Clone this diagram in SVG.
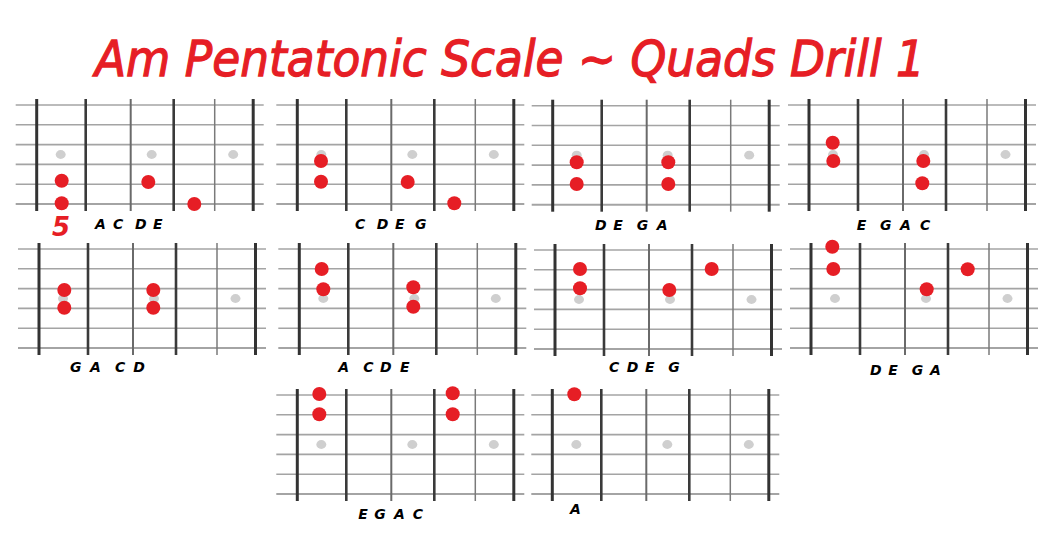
<svg xmlns="http://www.w3.org/2000/svg" xmlns:xlink="http://www.w3.org/1999/xlink" width="1062" height="541" viewBox="0 0 1062 541">
<style>
.str{stroke:#a4a4a4;stroke-width:1.6}
.f1{stroke:#333;stroke-width:3}
.f2{stroke:#3a3a3a;stroke-width:2.6}
.f3{stroke:#6a6a6a;stroke-width:2}
.f4{stroke:#7a7a7a;stroke-width:1.5}
.gd{fill:#cfcfcf}
.rd{fill:#e61e25}
.lbl{font-family:"DejaVu Sans",sans-serif;font-style:oblique;font-weight:bold;font-size:14px;fill:#000}
.title{font-family:"DejaVu Sans",sans-serif;font-style:oblique;font-size:50px;fill:#e61e25;stroke:#e61e25;stroke-width:1.3}
</style>
<defs>
<g id="board">
<line class="str" x1="-21" y1="0" x2="227" y2="0"/>
<line class="str" x1="-21" y1="19.8" x2="227" y2="19.8"/>
<line class="str" x1="-21" y1="39.6" x2="227" y2="39.6"/>
<line class="str" x1="-21" y1="59.4" x2="227" y2="59.4"/>
<line class="str" x1="-21" y1="79.2" x2="227" y2="79.2"/>
<line class="str" x1="-21" y1="99" x2="227" y2="99" style="stroke-width:2"/>
<line class="f1" x1="0" y1="-6" x2="0" y2="106"/>
<line class="f2" x1="49" y1="-6" x2="49" y2="106"/>
<line class="f3" x1="94" y1="-6" x2="94" y2="106"/>
<line class="f2" x1="137" y1="-6" x2="137" y2="106"/>
<line class="f4" x1="178" y1="-6" x2="178" y2="106"/>
<line class="f1" x1="216.5" y1="-6" x2="216.5" y2="106"/>
<ellipse class="gd" cx="24" cy="49.5" rx="5" ry="4.4"/>
<ellipse class="gd" cx="115" cy="49.5" rx="5" ry="4.4"/>
<ellipse class="gd" cx="196.5" cy="49.5" rx="5" ry="4.4"/>
</g>
</defs>
<rect width="1062" height="541" fill="#fff"/>
<text id="title" class="title" x="95" y="76" textLength="830" lengthAdjust="spacingAndGlyphs">Am Pentatonic Scale ~ Quads Drill 1</text>
<g id="d1">
<use xlink:href="#board" href="#board" x="36.7" y="105"/>
<circle class="rd" cx="61.7" cy="180.7" r="7"/>
<circle class="rd" cx="61.7" cy="203.3" r="7"/>
<circle class="rd" cx="148.3" cy="182" r="7"/>
<circle class="rd" cx="194.3" cy="204" r="7"/>
<text x="61" y="236" text-anchor="middle" style="font-family:'DejaVu Sans',sans-serif;font-style:oblique;font-weight:bold;font-size:26px;fill:#e61e25">5</text>
<text class="lbl" y="229"><tspan x="95">A</tspan> <tspan x="113">C</tspan> <tspan x="135">D</tspan> <tspan x="153">E</tspan></text>
</g>
<g id="d2">
<use xlink:href="#board" href="#board" x="297.3" y="105"/>
<circle class="rd" cx="321" cy="161" r="7"/>
<circle class="rd" cx="321" cy="181.7" r="7"/>
<circle class="rd" cx="407.7" cy="182" r="7"/>
<circle class="rd" cx="454.3" cy="203.3" r="7"/>
<text class="lbl" y="229"><tspan x="355">C</tspan> <tspan x="376.7">D</tspan> <tspan x="395">E</tspan> <tspan x="415">G</tspan></text>
</g>
<g id="d3">
<use xlink:href="#board" href="#board" x="552.7" y="105.7"/>
<circle class="rd" cx="576.7" cy="162.3" r="7"/>
<circle class="rd" cx="576.7" cy="184" r="7"/>
<circle class="rd" cx="668.3" cy="162.3" r="7"/>
<circle class="rd" cx="668.3" cy="184" r="7"/>
<text class="lbl" y="230"><tspan x="595">D</tspan> <tspan x="613.3">E</tspan> <tspan x="636.7">G</tspan> <tspan x="656.7">A</tspan></text>
</g>
<g id="d4">
<use xlink:href="#board" href="#board" x="809" y="105"/>
<circle class="rd" cx="832.7" cy="142.7" r="7"/>
<circle class="rd" cx="833.3" cy="161" r="7"/>
<circle class="rd" cx="923.3" cy="161" r="7"/>
<circle class="rd" cx="922.3" cy="183.3" r="7"/>
<text class="lbl" y="229.5"><tspan x="856.7">E</tspan> <tspan x="880">G</tspan> <tspan x="900">A</tspan> <tspan x="920">C</tspan></text>
</g>
<g id="d5">
<use xlink:href="#board" href="#board" x="39" y="249"/>
<circle class="rd" cx="64.3" cy="290" r="7"/>
<circle class="rd" cx="64.3" cy="307.7" r="7"/>
<circle class="rd" cx="153.3" cy="290" r="7"/>
<circle class="rd" cx="153.3" cy="307.7" r="7"/>
<text class="lbl" y="372"><tspan x="70">G</tspan> <tspan x="90">A</tspan> <tspan x="115">C</tspan> <tspan x="133.3">D</tspan></text>
</g>
<g id="d6">
<use xlink:href="#board" href="#board" x="299.3" y="249"/>
<circle class="rd" cx="321.7" cy="269" r="7"/>
<circle class="rd" cx="323.3" cy="289.3" r="7"/>
<circle class="rd" cx="413.3" cy="287.3" r="7"/>
<circle class="rd" cx="413.3" cy="306.7" r="7"/>
<text class="lbl" y="372"><tspan x="338.3">A</tspan> <tspan x="363.3">C</tspan> <tspan x="380">D</tspan> <tspan x="400">E</tspan></text>
</g>
<g id="d7">
<use xlink:href="#board" href="#board" x="555" y="250"/>
<circle class="rd" cx="580" cy="269" r="7"/>
<circle class="rd" cx="580" cy="288.3" r="7"/>
<circle class="rd" cx="669.3" cy="290" r="7"/>
<circle class="rd" cx="711.7" cy="269" r="7"/>
<text class="lbl" y="372"><tspan x="609">C</tspan> <tspan x="626.7">D</tspan> <tspan x="645">E</tspan> <tspan x="668.3">G</tspan></text>
</g>
<g id="d8">
<use xlink:href="#board" href="#board" x="811" y="249"/>
<circle class="rd" cx="832.3" cy="246.7" r="7"/>
<circle class="rd" cx="833.3" cy="269" r="7"/>
<circle class="rd" cx="926.7" cy="289.3" r="7"/>
<circle class="rd" cx="967.7" cy="269.3" r="7"/>
<text class="lbl" y="375"><tspan x="870">D</tspan> <tspan x="888.3">E</tspan> <tspan x="911.7">G</tspan> <tspan x="930">A</tspan></text>
</g>
<g id="d9">
<use xlink:href="#board" href="#board" x="297.3" y="395"/>
<circle class="rd" cx="319.3" cy="394" r="7"/>
<circle class="rd" cx="319.3" cy="414.3" r="7"/>
<circle class="rd" cx="452.7" cy="393.3" r="7"/>
<circle class="rd" cx="452.7" cy="414.3" r="7"/>
<text class="lbl" y="518.5"><tspan x="358.3">E</tspan> <tspan x="374.3">G</tspan> <tspan x="394">A</tspan> <tspan x="412.7">C</tspan></text>
</g>
<g id="d10">
<use xlink:href="#board" href="#board" x="552.3" y="395"/>
<circle class="rd" cx="574.3" cy="394.3" r="7"/>
<text class="lbl" x="570" y="514">A</text>
</g>
</svg>
